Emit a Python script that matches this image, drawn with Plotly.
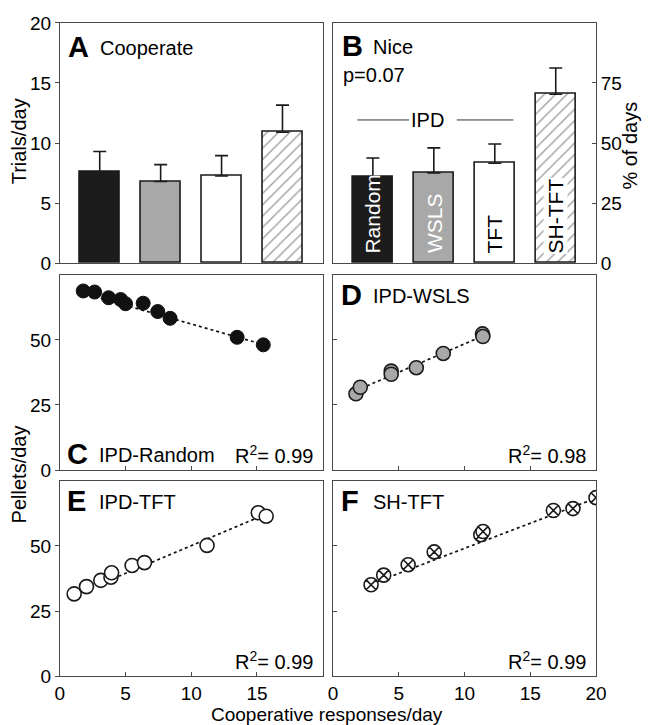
import plotly.graph_objects as go

# ------------ Data ------------

strategies = ["Random", "WSLS", "TFT", "SH-TFT"]
bar_colors = ["#1c1c1c", "#a8a8a8", "#ffffff", "#ffffff"]
bar_patterns = ["", "", "", "/"]

coop_mean = [7.6, 6.8, 7.25, 10.9]      # A: trials/day
coop_top = [9.3, 8.2, 8.95, 13.15]
nice_mean = [35.8, 37.6, 41.6, 70.3]    # B: % of days
nice_top = [43.8, 48.0, 49.6, 81.2]

c_x = [1.78, 2.65, 3.71, 4.63, 5.0, 6.34, 7.45, 8.39, 13.49, 15.48]
c_y = [68.8, 68.4, 66.2, 65.5, 63.9, 64.1, 60.9, 58.3, 51.0, 48.1]
c_fit_x = [1.8, 15.5]
c_fit_y = [67.9, 48.2]

d_x = [1.75, 2.08, 4.43, 4.43, 6.34, 8.39, 11.37, 11.4]
d_y = [29.3, 31.8, 38.0, 36.8, 39.3, 44.8, 52.3, 51.3]
d_fit_x = [1.75, 11.4]
d_fit_y = [30.5, 51.5]

e_x = [1.09, 2.03, 3.12, 3.89, 3.94, 5.5, 6.44, 11.2, 15.1, 15.7]
e_y = [31.6, 34.4, 36.8, 38.0, 39.7, 42.5, 43.6, 50.2, 62.7, 61.4]
e_fit_x = [1.1, 15.7]
e_fit_y = [31.2, 62.2]

f_x = [2.9, 3.86, 5.72, 7.7, 11.24, 11.41, 16.76, 18.25, 20.0]
f_y = [35.1, 38.8, 42.8, 47.7, 54.3, 55.5, 63.6, 64.3, 68.5]
f_fit_x = [2.9, 20.0]
f_fit_y = [35.4, 68.3]

r2_text = {"C": "0.99", "D": "0.98", "E": "0.99", "F": "0.99"}

# ------------ Layout helpers (pixels -> paper) ------------

W, H = 650, 725
FONT = "Liberation Sans, Arial, Helvetica, sans-serif"
FRAME = "#4a4a4a"
INK = "#000000"

def px(x):
    return x / W

def py(y):
    return 1 - y / H

def dom_x(a, b):
    return [px(a), px(b)]

def dom_y(top, bottom):
    return [py(bottom), py(top)]

LEFT = dom_x(48, 317.5)
RIGHT = dom_x(328, 597.7)
ROW1 = dom_y(5, 252.5)
ROW2 = dom_y(264.5, 465.5)
ROW3 = dom_y(476.5, 678)

fig = go.Figure()

# ------------ Bar panels A and B ------------

def add_bars(mean, top, xa, ya):
    fig.add_trace(go.Bar(
        x=strategies, y=mean, xaxis=xa, yaxis=ya, width=0.66,
        marker=dict(color=bar_colors, line=dict(color="#1a1a1a", width=1.6),
                    pattern=dict(shape=bar_patterns, fgcolor="#000000", bgcolor="#ffffff",
                                 size=8, solidity=0.18)),
        error_y=dict(type="data", symmetric=False,
                     array=[t - m for t, m in zip(top, mean)],
                     arrayminus=[0] * len(mean),
                     color="#1a1a1a", thickness=1.6, width=6.5),
        showlegend=False, hoverinfo="skip"))

add_bars(coop_mean, coop_top, "x", "y")
add_bars(nice_mean, nice_top, "x2", "y2")

# ------------ Scatter panels C-F ------------

def add_scatter(xs, ys, fx, fy, xa, ya, marker):
    fig.add_trace(go.Scatter(x=fx, y=fy, xaxis=xa, yaxis=ya, mode="lines",
                             line=dict(color="#111111", width=1.7, dash="dot"),
                             showlegend=False, hoverinfo="skip"))
    fig.add_trace(go.Scatter(x=xs, y=ys, xaxis=xa, yaxis=ya, mode="markers",
                             marker=marker, showlegend=False))

add_scatter(c_x, c_y, c_fit_x, c_fit_y, "x3", "y3",
            dict(size=14, color="#111111", line=dict(color="#111111", width=1)))
add_scatter(d_x, d_y, d_fit_x, d_fit_y, "x4", "y4",
            dict(size=14, color="#a8a8a8", line=dict(color="#1a1a1a", width=1.6)))
add_scatter(e_x, e_y, e_fit_x, e_fit_y, "x5", "y5",
            dict(size=14, color="#ffffff", line=dict(color="#1a1a1a", width=1.6)))
add_scatter(f_x, f_y, f_fit_x, f_fit_y, "x6", "y6",
            dict(size=14, symbol="circle-x", color="#ffffff", line=dict(color="#1a1a1a", width=1.6)))

# ------------ Axes ------------

tickfont = dict(family=FONT, size=19, color=INK)
frame = dict(showline=True, linecolor=FRAME, linewidth=1, mirror=True,
             showgrid=False, zeroline=False, tickfont=tickfont,
             ticklen=4, tickcolor=FRAME, ticklabeloverflow="allow")
cat_range = [-0.655, 3.66]

fig.update_layout(
    xaxis=dict(domain=LEFT, anchor="y", range=cat_range, showticklabels=False, ticks="", **frame),
    yaxis=dict(domain=ROW1, anchor="x", range=[0, 20], tickvals=[0, 5, 10, 15, 20],
               ticks="outside", **frame),
    xaxis2=dict(domain=RIGHT, anchor="y2", range=cat_range, showticklabels=False, ticks="", **frame),
    yaxis2=dict(domain=ROW1, anchor="x2", range=[0, 100], side="right",
                tickvals=[0, 25, 50, 75], ticks="inside", **frame),
    xaxis3=dict(domain=LEFT, anchor="y3", range=[0, 20], tickvals=[5, 10, 15],
                showticklabels=False, ticks="inside", **frame),
    yaxis3=dict(domain=ROW2, anchor="x3", range=[0, 75], tickvals=[0, 25, 50],
                ticks="outside", **frame),
    xaxis4=dict(domain=RIGHT, anchor="y4", range=[0, 20], tickvals=[5, 10, 15],
                showticklabels=False, ticks="inside", **frame),
    yaxis4=dict(domain=ROW2, anchor="x4", range=[0, 75], tickvals=[25, 50],
                showticklabels=False, ticks="inside", **frame),
    xaxis5=dict(domain=LEFT, anchor="y5", range=[0, 20], tickvals=[0, 5, 10, 15],
                ticks="inside", **frame),
    yaxis5=dict(domain=ROW3, anchor="x5", range=[0, 75], tickvals=[0, 25, 50],
                ticks="outside", **frame),
    xaxis6=dict(domain=RIGHT, anchor="y6", range=[0, 20], tickvals=[0, 5, 10, 15, 20],
                ticks="inside", **frame),
    yaxis6=dict(domain=ROW3, anchor="x6", range=[0, 75], tickvals=[25, 50],
                showticklabels=False, ticks="inside", **frame),
)

# ------------ Text ------------

annotations = []

def text(x, y, s, size=20, bold=False, xanchor="left", angle=0, color=INK, **kw):
    if bold:
        s = "<b>" + s + "</b>"
    annotations.append(dict(x=px(x), y=py(y), xref="paper", yref="paper", text=s,
                            showarrow=False, xanchor=xanchor, yanchor="middle",
                            textangle=angle, font=dict(family=FONT, size=size, color=color), **kw))

# panel letters and titles
text(54, 30, "A", size=29, bold=True)
text(87, 31, "Cooperate")
text(335, 29, "B", size=29, bold=True)
text(367, 30, "Nice")
text(336, 59, "p=0.07")
text(53, 449, "C", size=29, bold=True)
text(86, 450, "IPD-Random")
text(334, 285, "D", size=29, bold=True)
text(367, 286, "IPD-WSLS")
text(53, 497, "E", size=29, bold=True)
text(86, 498, "IPD-TFT")
text(334, 497, "F", size=29, bold=True)
text(367, 498, "SH-TFT")

# R^2 values
for x, y, k in [(310, 450, "C"), (590, 450, "D"), (310, 662, "E"), (590, 662, "F")]:
    text(x, y, "R<sup>2</sup>= " + r2_text[k], xanchor="right")

# IPD bracket in B
text(425, 105, "IPD", xanchor="center")
fig.add_shape(type="line", xref="paper", yref="paper", x0=px(353), x1=px(406),
              y0=py(105), y1=py(105), line=dict(color="#333333", width=1))
fig.add_shape(type="line", xref="paper", yref="paper", x0=px(455), x1=px(513),
              y0=py(105), y1=py(105), line=dict(color="#333333", width=1))

# vertical labels inside the B bars
label_colors = ["#ffffff", "#ffffff", INK, INK]
for name, col in zip(strategies, label_colors):
    annotations.append(dict(x=name, y=0, xref="x2", yref="y2", text=name, showarrow=False,
                            textangle=-90, xanchor="center", yanchor="bottom", yshift=9,
                            bgcolor="#ffffff" if name == "SH-TFT" else None, borderpad=0,
                            font=dict(family=FONT, size=21, color=col)))

# axis titles
text(0, 127, "Trials/day", angle=-90, xanchor="left", xshift=-7)
text(633, 131, "% of days", angle=-90, xanchor="center")
text(0, 470, "Pellets/day", angle=-90, xanchor="left", xshift=-7)
text(322, 717, "Cooperative responses/day", size=19, xanchor="center")

fig.update_layout(
    annotations=annotations,
    width=W, height=H,
    margin=dict(l=0, r=0, t=0, b=0),
    paper_bgcolor="white", plot_bgcolor="white",
    font=dict(family=FONT, color=INK),
    bargap=0,
)

fig.write_html("out.html")
